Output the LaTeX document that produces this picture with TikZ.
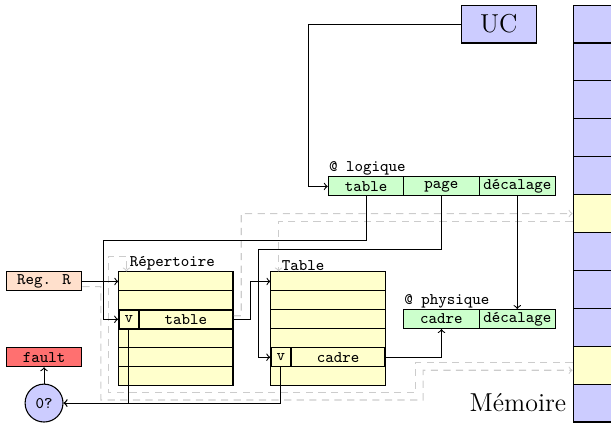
\documentclass[tikz,border=0pt]{standalone}
\usepackage{fontspec}
\usepackage{tikz}

\definecolor{cellyellow}{RGB}{255,255,204}
\definecolor{addrgreen}{RGB}{204,255,204}
\definecolor{memblue}{RGB}{204,204,255}
\definecolor{regorange}{RGB}{255,224,204}
\definecolor{faultred}{RGB}{255,112,112}

\begin{document}
\begin{tikzpicture}[
  every node/.style={font=\small\ttfamily},
  box/.style={draw, semithick, inner sep=1pt, minimum height=0.37cm},
  tab/.style={box, fill=cellyellow, minimum width=2.23cm},
  addr/.style={box, fill=addrgreen, minimum width=1.48cm},
  memcell/.style={draw, semithick, minimum width=1.6cm, minimum height=0.74cm},
  link/.style={semithick, ->},
  ghost/.style={gray!40, semithick, dash pattern=on 4pt off 3pt, ->},
  title/.style={anchor=south west, inner sep=0.5pt}
]
  \useasboundingbox (0,0) rectangle (11.93,8.26);

  % memoire
  \foreach \c [count=\i] in {memblue,memblue,memblue,memblue,memblue,cellyellow,memblue,memblue,memblue,cellyellow,memblue}
    \node[memcell, fill=\c] (m\i) at (11.99,{8.16-0.74*(\i-0.5)}) {};
  \node[font=\Large, anchor=east] (mem) at (m11.west) {Mémoire};

  % UC
  \node[box, fill=memblue, font=\Large, minimum width=1.47cm, minimum height=0.74cm] (uc) at (9.74,7.79) {UC};

  % adresse logique
  \node[addr] (lt) at (7.15,4.62) {table};
  \node[addr] (lp) at (8.62,4.62) {page};
  \node[addr] (ld) at (10.10,4.62) {décalage};
  \node[title] (ltitle) at (lt.north west) {@ logique};

  % adresse physique
  \node[addr] (pc) at (8.62,2.03) {cadre};
  \node[addr] (pd) at (10.10,2.03) {décalage};
  \node[title] (ptitle) at (pc.north west) {@ physique};

  % registre, faute
  \node[box, fill=regorange, minimum width=1.48cm] (regr) at (0.86,2.765) {Reg. R};
  \node[box, fill=faultred, minimum width=1.48cm] (fault) at (0.86,1.285) {fault};
  \node[draw, semithick, circle, fill=memblue, minimum size=0.74cm, inner sep=0pt] (ok) at (0.86,0.39) {0?};

  % repertoire
  \foreach \i in {1,...,6}
    \node[tab] (r\i) at (3.435,{2.95-0.37*(\i-0.5)}) {};
  \node[tab, thick, minimum width=0.39cm] (rv) at (2.515,2.025) {v};
  \node[tab, thick, minimum width=1.84cm] (rt) at (3.63,2.025) {table};
  \node[title] (rtitle) at ([xshift=0.2cm]r1.north west) {Répertoire};

  % table des pages
  \foreach \i in {1,...,6}
    \node[tab] (t\i) at (6.405,{2.95-0.37*(\i-0.5)}) {};
  \node[tab, thick, minimum width=0.39cm] (tv) at (5.485,1.285) {v};
  \node[tab, thick, minimum width=1.84cm] (tc) at (6.60,1.285) {cadre};
  \node[title] (ttitle) at ([xshift=0.2cm]t1.north west) {Table};

  % chemins en memoire
  \draw[ghost] ([yshift=-0.1cm]regr.east) -| (1.97,0.45) -| (8.26,1.03) -- ([yshift=-0.1cm]m10.west);
  \draw[ghost] ([yshift=0.05cm]m10.west) -| (8.11,0.59) -| (2.11,3.26) -| ([xshift=0.16cm]r1.north west);
  \draw[ghost] ([yshift=0.07cm]rt.east) -| (4.71,4.09) -- (m6.west);
  \draw[ghost] ([yshift=-0.15cm]m6.west) -| ([xshift=0.16cm]t1.north west);

  % traduction
  \draw[link] (uc.west) -| ([xshift=-0.37cm]lt.west) -- (lt.west);
  \draw[link] (regr.east) -- (r1.west);
  \draw[link] (lt.south) -- ++(0,-0.86) -| ([xshift=-0.29cm]rv.west) -- (rv.west);
  \draw[link] (lp.south) -- ++(0,-1.03) -| ([xshift=-0.23cm]tv.west) -- (tv.west);
  \draw[link] (ld.south) -- (pd.north);
  \draw[link] (rt.east) -- ++(0.33,0) |- (t1.west);
  \draw[link] (tc.east) -| (pc.south);
  \draw[link] (rv.south) |- (ok.east);
  \draw[link] (tv.south) |- (ok.east);
  \draw[link] (ok.north) -- (fault.south);
\end{tikzpicture}
\end{document}
